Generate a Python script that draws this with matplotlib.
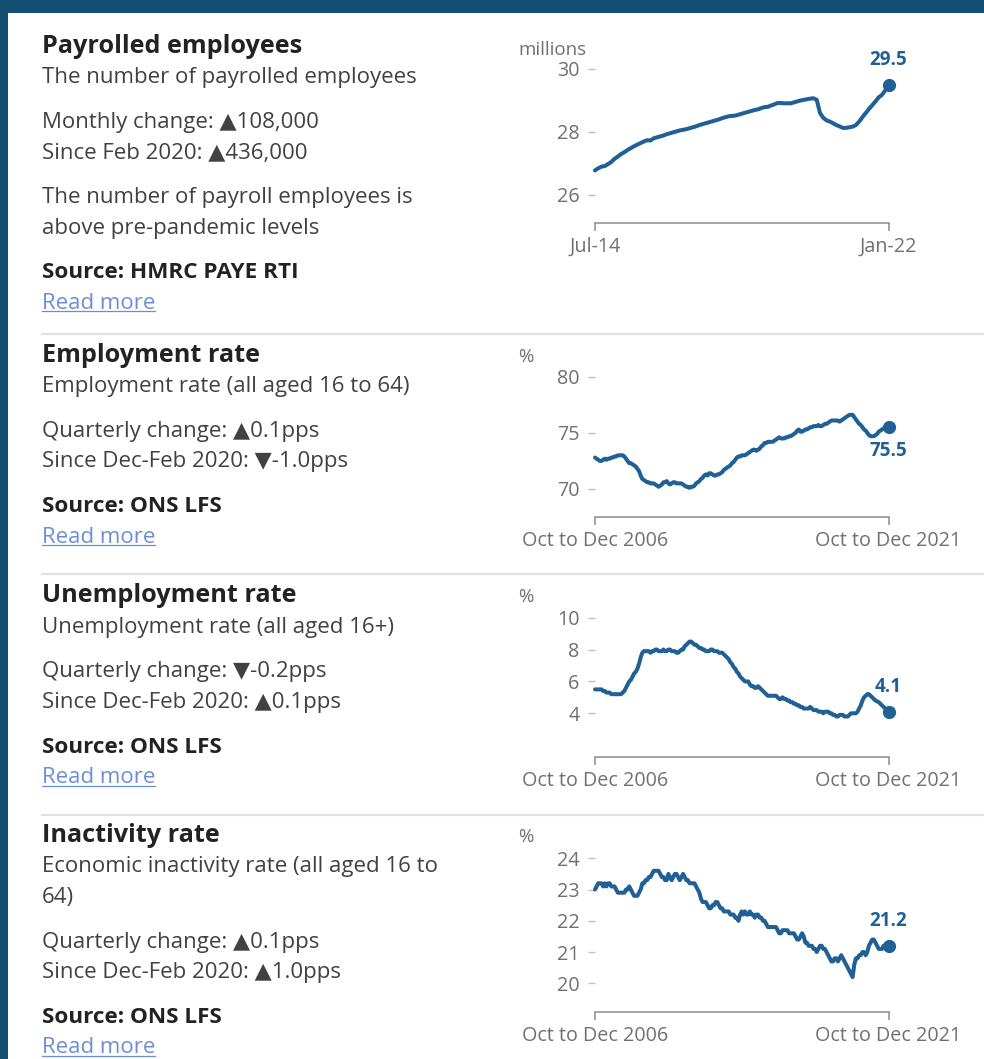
import numpy as np
import matplotlib.pyplot as plt
from matplotlib.patches import Rectangle
from matplotlib.lines import Line2D

# Daten
payroll_labels = ["Jul-14", "Jan-22"]
payroll = [
    26.78, 26.85, 26.90, 26.92, 26.98, 27.05,
    27.15, 27.22, 27.30, 27.36, 27.43, 27.49, 27.55, 27.60, 27.65, 27.70, 27.74, 27.73,
    27.80, 27.83, 27.86, 27.89, 27.93, 27.96, 27.99, 28.02, 28.05, 28.07, 28.09, 28.12,
    28.15, 28.18, 28.22, 28.25, 28.28, 28.31, 28.34, 28.37, 28.40, 28.44, 28.47, 28.50,
    28.51, 28.52, 28.55, 28.58, 28.61, 28.64, 28.67, 28.70, 28.72, 28.76, 28.79, 28.80,
    28.84, 28.88, 28.92, 28.92, 28.91, 28.91, 28.91, 28.94, 28.97, 29.00, 29.02, 29.04,
    29.06, 29.07, 29.02, 28.60, 28.45, 28.37, 28.33, 28.28, 28.22, 28.18, 28.13, 28.13,
    28.15, 28.17, 28.22, 28.33, 28.47, 28.60, 28.73, 28.85, 28.97, 29.10, 29.18, 29.32,
    29.50,
]

lfs_labels = ["Oct to Dec 2006", "Oct to Dec 2021"]
employment = [
    72.8,
    72.7, 72.6, 72.5, 72.5, 72.6, 72.7, 72.6, 72.7, 72.7, 72.8, 72.8, 72.9,
    72.9, 73.0, 73.0, 73.0, 73.0, 72.9, 72.7, 72.5, 72.3, 72.3, 72.2, 72.1,
    72.0, 71.8, 71.6, 71.2, 70.9, 70.8, 70.7, 70.6, 70.6, 70.5, 70.5, 70.5,
    70.4, 70.3, 70.2, 70.3, 70.4, 70.6, 70.6, 70.7, 70.5, 70.4, 70.5, 70.6,
    70.6, 70.5, 70.5, 70.5, 70.5, 70.4, 70.3, 70.2, 70.2, 70.1, 70.2, 70.2,
    70.3, 70.5, 70.6, 70.7, 70.9, 71.0, 71.2, 71.3, 71.2, 71.4, 71.4, 71.3,
    71.2, 71.2, 71.3, 71.3, 71.4, 71.5, 71.7, 71.8, 71.9, 72.0, 72.1, 72.3,
    72.4, 72.6, 72.8, 72.9, 72.9, 73.0, 73.0, 73.0, 73.1, 73.2, 73.3, 73.4,
    73.5, 73.5, 73.4, 73.5, 73.6, 73.8, 73.9, 74.1, 74.1, 74.2, 74.2, 74.2,
    74.2, 74.3, 74.4, 74.5, 74.6, 74.5, 74.5, 74.5, 74.6, 74.6, 74.7, 74.7,
    74.8, 74.9, 75.0, 75.2, 75.3, 75.1, 75.1, 75.2, 75.3, 75.3, 75.4, 75.5,
    75.5, 75.6, 75.6, 75.6, 75.7, 75.6, 75.6, 75.7, 75.8, 75.8, 75.9, 76.0,
    76.1, 76.1, 76.1, 76.1, 76.1, 76.0, 76.1, 76.2, 76.3, 76.4, 76.5, 76.6,
    76.6, 76.6, 76.4, 76.2, 76.0, 75.8, 75.7, 75.5, 75.3, 75.2, 75.0, 74.8,
    74.7, 74.7, 74.7, 74.8, 74.9, 75.1, 75.2, 75.3, 75.4, 75.4, 75.5, 75.5,
]
unemployment = [
    5.5,
    5.5, 5.5, 5.5, 5.5, 5.4, 5.4, 5.3, 5.3, 5.3, 5.2, 5.2, 5.2,
    5.2, 5.2, 5.2, 5.2, 5.3, 5.4, 5.6, 5.8, 6.0, 6.1, 6.3, 6.5,
    6.6, 6.8, 7.1, 7.5, 7.8, 7.9, 7.9, 7.9, 7.9, 7.8, 7.9, 7.9,
    8.0, 8.0, 7.9, 7.9, 7.9, 8.0, 7.9, 7.9, 8.0, 8.0, 7.9, 7.9,
    7.9, 7.8, 7.8, 7.9, 8.0, 8.0, 8.2, 8.3, 8.4, 8.5, 8.5, 8.4,
    8.3, 8.3, 8.2, 8.1, 8.1, 8.0, 8.0, 7.9, 7.9, 7.9, 8.0, 8.0,
    7.9, 7.9, 7.9, 7.8, 7.8, 7.8, 7.7, 7.6, 7.5, 7.4, 7.2, 7.1,
    6.9, 6.8, 6.6, 6.5, 6.3, 6.2, 6.1, 6.0, 6.0, 6.0, 5.8, 5.7,
    5.7, 5.6, 5.6, 5.7, 5.6, 5.5, 5.4, 5.3, 5.2, 5.1, 5.1, 5.1,
    5.1, 5.1, 5.1, 5.0, 4.9, 4.9, 5.0, 4.9, 4.9, 4.8, 4.8, 4.7,
    4.7, 4.6, 4.6, 4.5, 4.5, 4.4, 4.4, 4.3, 4.3, 4.3, 4.3, 4.4,
    4.3, 4.2, 4.2, 4.2, 4.1, 4.1, 4.1, 4.0, 4.1, 4.1, 4.1, 4.0,
    4.0, 3.9, 3.9, 3.8, 3.8, 3.9, 3.9, 3.9, 3.8, 3.8, 3.8, 3.9,
    4.0, 4.0, 4.0, 4.0, 4.1, 4.3, 4.5, 4.8, 5.0, 5.1, 5.2, 5.2,
    5.1, 5.0, 4.9, 4.8, 4.75, 4.7, 4.6, 4.5, 4.4, 4.3, 4.2, 4.1,
]
inactivity = [
    23.0,
    23.1, 23.2, 23.2, 23.2, 23.1, 23.2, 23.1, 23.2, 23.2, 23.1, 23.1, 23.1,
    23.0, 22.9, 22.9, 22.9, 22.9, 22.9, 23.0, 23.0, 23.1, 23.0, 22.9, 22.8,
    22.8, 22.8, 22.9, 23.0, 23.2, 23.2, 23.3, 23.3, 23.4, 23.4, 23.5, 23.6,
    23.6, 23.6, 23.6, 23.5, 23.4, 23.4, 23.3, 23.3, 23.5, 23.4, 23.3, 23.4,
    23.5, 23.5, 23.4, 23.3, 23.4, 23.5, 23.4, 23.3, 23.3, 23.2, 23.2, 23.2,
    23.2, 23.1, 23.0, 22.9, 22.7, 22.6, 22.6, 22.6, 22.5, 22.4, 22.4, 22.5,
    22.5, 22.6, 22.6, 22.5, 22.4, 22.4, 22.3, 22.3, 22.3, 22.3, 22.2, 22.2,
    22.2, 22.1, 22.1, 22.0, 22.2, 22.3, 22.2, 22.3, 22.2, 22.2, 22.3, 22.2,
    22.2, 22.1, 22.2, 22.2, 22.1, 22.1, 22.0, 22.0, 21.9, 21.8, 21.8, 21.8,
    21.8, 21.8, 21.8, 21.7, 21.6, 21.6, 21.7, 21.7, 21.7, 21.7, 21.6, 21.6,
    21.6, 21.6, 21.5, 21.4, 21.4, 21.5, 21.6, 21.5, 21.3, 21.3, 21.2, 21.2,
    21.2, 21.1, 21.1, 21.0, 21.1, 21.2, 21.2, 21.1, 21.1, 21.0, 20.9, 20.8,
    20.7, 20.7, 20.8, 20.8, 20.7, 20.8, 20.9, 20.8, 20.7, 20.6, 20.5, 20.4,
    20.3, 20.2, 20.6, 20.8, 20.8, 20.9, 20.9, 21.0, 21.0, 20.9, 21.0, 21.2,
    21.3, 21.4, 21.4, 21.3, 21.2, 21.1, 21.1, 21.1, 21.2, 21.2, 21.1, 21.2,
]

# Textos dos painéis: grupos de linhas (texto, estilo)
panels = [
    [[("Payrolled employees", "title"), ("The number of payrolled employees", "body")],
     [("Monthly change: ▲108,000", "body"), ("Since Feb 2020: ▲436,000", "body")],
     [("The number of payroll employees is", "body"), ("above pre-pandemic levels", "body")],
     [("Source: HMRC PAYE RTI", "source"), ("Read more", "link")]],
    [[("Employment rate", "title"), ("Employment rate (all aged 16 to 64)", "body")],
     [("Quarterly change: ▲0.1pps", "body"), ("Since Dec-Feb 2020: ▼-1.0pps", "body")],
     [("Source: ONS LFS", "source"), ("Read more", "link")]],
    [[("Unemployment rate", "title"), ("Unemployment rate (all aged 16+)", "body")],
     [("Quarterly change: ▼-0.2pps", "body"), ("Since Dec-Feb 2020: ▲0.1pps", "body")],
     [("Source: ONS LFS", "source"), ("Read more", "link")]],
    [[("Inactivity rate", "title"), ("Economic inactivity rate (all aged 16 to", "body"), ("64)", "body")],
     [("Quarterly change: ▲0.1pps", "body"), ("Since Dec-Feb 2020: ▲1.0pps", "body")],
     [("Source: ONS LFS", "source"), ("Read more", "link")]],
]

series = [payroll, employment, unemployment, inactivity]
x_labels = [payroll_labels, lfs_labels, lfs_labels, lfs_labels]
y_ticks = [[26, 28, 30], [70, 75, 80], [4, 6, 8, 10], [20, 21, 22, 23, 24]]
units = ["millions", "%", "%", "%"]
value_labels = ["29.5", "75.5", "4.1", "21.2"]

# Layout em pixels
W, H = 984, 1059
title_top = [52.7, 361.7, 602.3, 841.7]
separators = [333.7, 574.3, 815.0]
# (pixel do primeiro tick, pixel do último tick, pixel do eixo x)
chart_px = [(195.0, 69.0, 222.7), (489.0, 376.7, 516.7),
            (713.3, 617.7, 756.7), (983.3, 858.3, 1011.7)]
unit_base = [55.0, 361.7, 601.7, 841.7]
label_offset = [14, -21, 14, 14]

BLUE = "#206095"
FONT = ["Open Sans", "DejaVu Sans"]
plt.rcParams["font.family"] = FONT

fig = plt.figure(figsize=(W / 100, H / 100), dpi=100)
fig.patch.set_facecolor("#124f72")
fig.patches.append(Rectangle((8 / W, 0), 1, 1 - 13 / H, transform=fig.transFigure,
                             facecolor="white", edgecolor="none", zorder=-5))


def fx(px):
    return px / W


def fy(py):
    return 1 - py / H


styles = {
    "title": dict(fontsize=18.2, fontweight="bold", color="#222222"),
    "body": dict(fontsize=16.0, color="#414042"),
    "source": dict(fontsize=16.2, fontweight="bold", color="#222222"),
    "link": dict(fontsize=16.0, color="#6b8fd6"),
}

links = []
for top, groups in zip(title_top, panels):
    y = top
    for gi, group in enumerate(groups):
        if gi > 0:
            y += 44.4 - 30.7
        for li, (txt, kind) in enumerate(group):
            if gi > 0 or li > 0:
                y += 30.7
            t = fig.text(fx(42), fy(y), txt, va="baseline", ha="left", **styles[kind])
            if kind == "link":
                links.append((t, y))

for sy in separators:
    fig.add_artist(Line2D([fx(42), 1], [fy(sy), fy(sy)], color="#e2e2e2", lw=1.6))

for i in range(4):
    vals = series[i]
    ya_px, yb_px, base_px = chart_px[i]
    ticks = y_ticks[i]
    scale = (ticks[-1] - ticks[0]) / (ya_px - yb_px)
    top_px = base_px - 190
    y_lo = ticks[0] - (base_px - ya_px) * scale
    y_hi = ticks[-1] + (yb_px - top_px) * scale

    ax = fig.add_axes([fx(595), fy(base_px), fx(888.5) - fx(595), (base_px - top_px) / H])
    ax.set_facecolor("none")
    x = np.arange(len(vals))
    ax.plot(x, vals, color=BLUE, lw=2.9, solid_joinstyle="round", solid_capstyle="round",
            clip_on=False)
    ax.plot(x[-1], vals[-1], "o", color=BLUE, ms=8.5, clip_on=False)
    ax.annotate(value_labels[i], (x[-1], vals[-1]), xytext=(0, label_offset[i]),
                textcoords="offset points", ha="center", va="baseline",
                fontsize=13.5, fontweight="bold", color=BLUE)
    ax.set_xlim(0, len(vals) - 1)
    ax.set_ylim(y_lo, y_hi)
    for s in ["top", "right", "left"]:
        ax.spines[s].set_visible(False)
    ax.spines["bottom"].set_color("#8c8c8c")
    ax.spines["bottom"].set_linewidth(1.1)
    ax.set_yticks(ticks)
    ax.set_yticklabels([str(t) for t in ticks])
    ax.tick_params(axis="y", length=5, width=1, color="#c0c0c0", pad=6,
                   labelsize=14.2, labelcolor="#707070")
    ax.set_xticks([0, len(vals) - 1])
    ax.set_xticklabels(x_labels[i])
    ax.tick_params(axis="x", length=5.5, width=1.1, color="#8c8c8c", pad=4.5,
                   labelsize=14.2, labelcolor="#707070")
    fig.text(fx(518), fy(unit_base[i]), units[i], fontsize=13.5, color="#707070",
             va="baseline", ha="left")

# sublinhado dos links
fig.canvas.draw()
for t, y in links:
    bb = t.get_window_extent()
    fig.add_artist(Line2D([bb.x0 / W, bb.x1 / W], [fy(y + 2.5), fy(y + 2.5)],
                          color="#6b8fd6", lw=0.9))

fig.savefig("out.png", dpi=100, facecolor=fig.get_facecolor())
